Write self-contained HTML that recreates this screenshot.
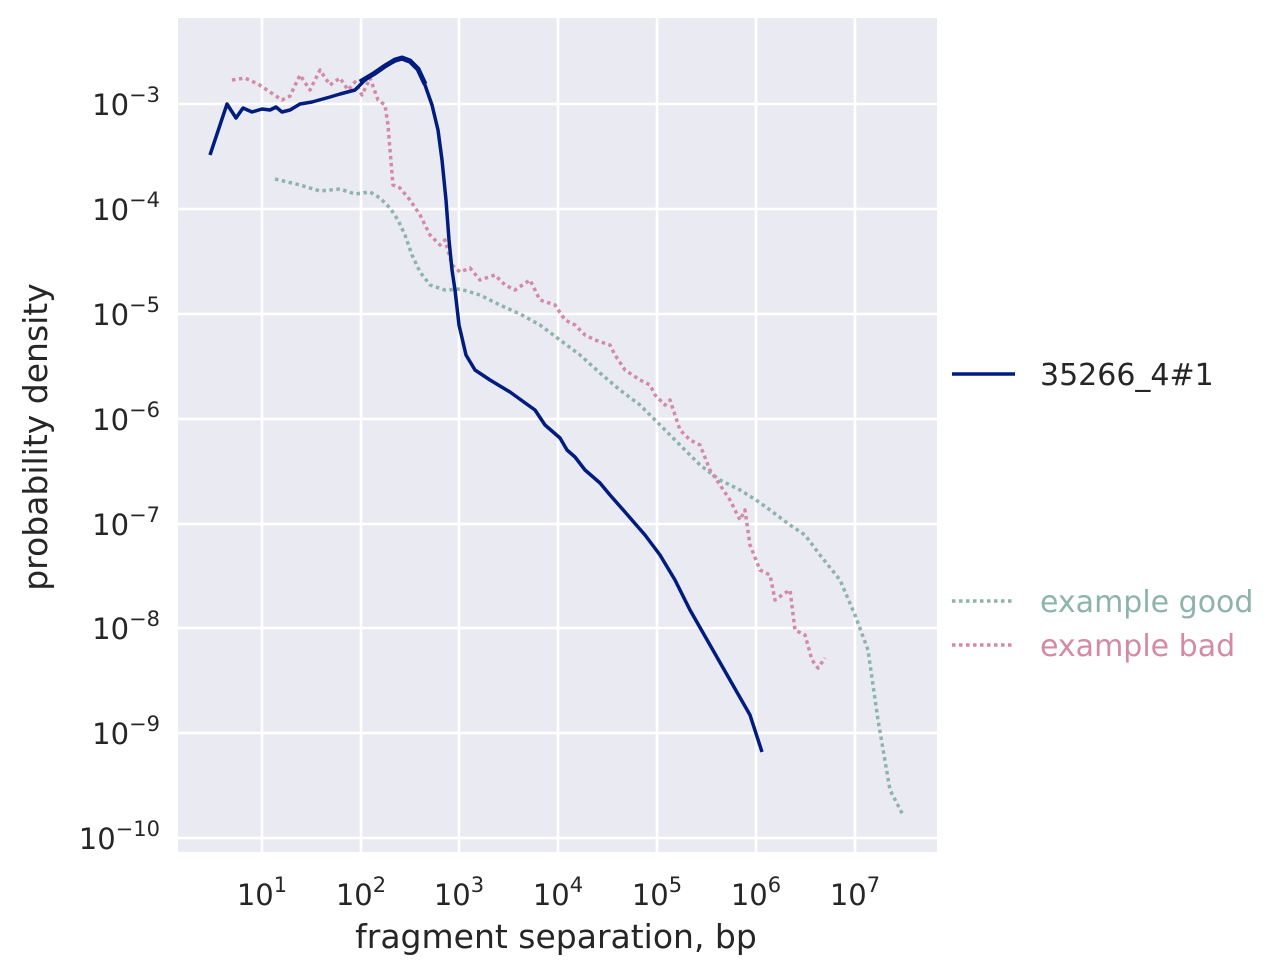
<!DOCTYPE html>
<html><head><meta charset="utf-8"><style>
html,body{margin:0;padding:0;background:#fff;}
svg{display:block;font-family:"DejaVu Sans","Liberation Sans",sans-serif;}
</style></head><body>
<svg width="1283" height="976" viewBox="0 0 1283 976" xmlns="http://www.w3.org/2000/svg">
<rect x="178" y="18" width="759" height="834" fill="#eaeaf2"/>
<g stroke="#fff" stroke-width="2.5">
<line x1="262" y1="18" x2="262" y2="852"/><line x1="361" y1="18" x2="361" y2="852"/>
<line x1="459" y1="18" x2="459" y2="852"/><line x1="558" y1="18" x2="558" y2="852"/>
<line x1="657" y1="18" x2="657" y2="852"/><line x1="756" y1="18" x2="756" y2="852"/>
<line x1="855" y1="18" x2="855" y2="852"/>
<line x1="178" y1="104" x2="937" y2="104"/><line x1="178" y1="209" x2="937" y2="209"/>
<line x1="178" y1="314" x2="937" y2="314"/><line x1="178" y1="419" x2="937" y2="419"/>
<line x1="178" y1="524" x2="937" y2="524"/><line x1="178" y1="628" x2="937" y2="628"/>
<line x1="178" y1="733" x2="937" y2="733"/><line x1="178" y1="838" x2="937" y2="838"/>
</g>
<g fill="none" stroke-linejoin="round">
<polyline stroke="#8db4ab" stroke-width="3.5" stroke-dasharray="3.5,3.5" points="275,179 300,185 320,191 340,189 355,194 370,192 380,198 390,208 398,220 405,235 412,255 420,272 430,285 445,290 460,289 480,295 500,305 520,314 540,325 560,340 580,355 600,373 620,390 640,405 660,425 680,445 700,465 720,480 740,490 756,500 770,510 790,525 805,535 820,555 840,580 855,615 868,650 878,720 890,790 903,815"/>
<polyline stroke="#d38ba5" stroke-width="3.5" stroke-dasharray="3.5,3.5" points="232,80 245,78 258,84 270,92 282,100 290,96 300,75 310,90 320,70 330,85 340,78 348,90 355,82 362,95 370,78 378,100 385,105 388,125 390,150 393,185 400,188 410,200 420,215 430,235 440,245 445,240 452,265 460,272 470,268 480,280 495,275 505,285 515,290 530,280 540,300 555,305 565,320 575,325 585,335 595,340 610,345 615,355 625,370 640,380 650,385 655,395 665,405 670,400 680,430 690,440 700,445 710,470 720,485 730,500 740,520 745,510 750,545 760,570 770,575 775,600 782,595 790,590 795,630 805,635 812,660 818,668 825,658"/>
<polyline stroke="#001c7f" stroke-width="3.5" points="210,155 227,104 236,118 243,108 252,112 262,109 270,110 276,107 282,112 290,110 300,104 312,102 330,97 340,94 355,90 365,80 375,72 385,66 395,61 402,59 410,62 418,70 425,85 432,105 438,130 442,160 446,200 449,240 452,270 455,290 459,325 466,355 475,370 490,380 510,392 528,405 535,410 545,425 560,438 567,450 575,457 585,470 600,483 610,495 625,512 645,535 660,555 675,580 690,610 710,645 730,680 750,715 762,752"/>
<polyline stroke="#001c7f" stroke-width="5" points="360,82 375,73 385,66 395,60 402,58 410,61 418,69 425,84"/>
</g>
<g font-size="29" fill="#262626" text-anchor="end">
<text x="160" y="115">10<tspan font-size="21" dy="-13">−3</tspan></text>
<text x="160" y="220">10<tspan font-size="21" dy="-13">−4</tspan></text>
<text x="160" y="325">10<tspan font-size="21" dy="-13">−5</tspan></text>
<text x="160" y="430">10<tspan font-size="21" dy="-13">−6</tspan></text>
<text x="160" y="535">10<tspan font-size="21" dy="-13">−7</tspan></text>
<text x="160" y="639">10<tspan font-size="21" dy="-13">−8</tspan></text>
<text x="160" y="744">10<tspan font-size="21" dy="-13">−9</tspan></text>
<text x="160" y="849">10<tspan font-size="21" dy="-13">−10</tspan></text>
</g>
<g font-size="29" fill="#262626" text-anchor="middle">
<text x="262" y="905">10<tspan font-size="21" dy="-13">1</tspan></text>
<text x="361" y="905">10<tspan font-size="21" dy="-13">2</tspan></text>
<text x="459" y="905">10<tspan font-size="21" dy="-13">3</tspan></text>
<text x="558" y="905">10<tspan font-size="21" dy="-13">4</tspan></text>
<text x="657" y="905">10<tspan font-size="21" dy="-13">5</tspan></text>
<text x="756" y="905">10<tspan font-size="21" dy="-13">6</tspan></text>
<text x="855" y="905">10<tspan font-size="21" dy="-13">7</tspan></text>
<text x="556" y="948" font-size="33">fragment separation, bp</text>
<text transform="translate(47,437) rotate(-90)" font-size="33">probability density</text>
</g>
<line x1="952" y1="374" x2="1015" y2="374" stroke="#001c7f" stroke-width="3.5"/>
<text x="1040" y="385" font-size="30" fill="#262626">35266_4#1</text>
<line x1="952" y1="601" x2="1015" y2="601" stroke="#8db4ab" stroke-width="3.5" stroke-dasharray="3.5,3.5"/>
<text x="1040" y="612" font-size="30" fill="#8db4ab">example good</text>
<line x1="952" y1="645" x2="1015" y2="645" stroke="#d38ba5" stroke-width="3.5" stroke-dasharray="3.5,3.5"/>
<text x="1040" y="656" font-size="30" fill="#d38ba5">example bad</text>
</svg>
</body></html>
